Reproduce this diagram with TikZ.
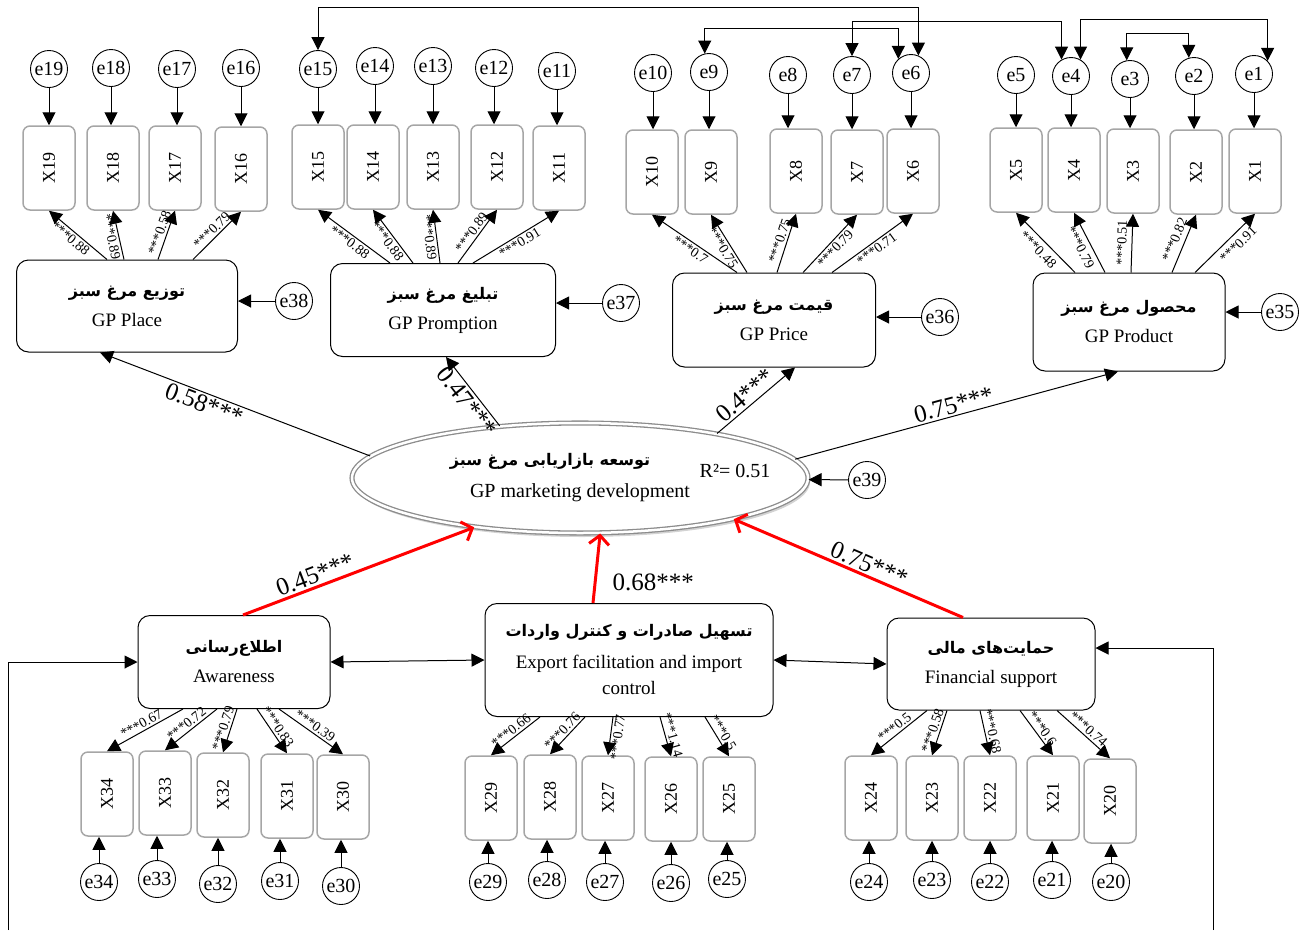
\documentclass[tikz,border=0pt]{standalone}
\usepackage{fontspec}
\setmainfont{Liberation Serif}
\newfontfamily\arabicfont[Script=Arabic]{DejaVu Sans}
\TeXXeTstate=1
\usetikzlibrary{arrows.meta, shapes.geometric, shadows}

\newcommand{\fa}[1]{{\arabicfont\bfseries\fontsize{16}{20}\selectfont\beginR #1\endR}}

\tikzstyle{construct} = [rectangle, rounded corners=12pt, draw=black, line width=1pt,
    fill=white, align=center, font=\fontsize{19}{30}\selectfont]
\tikzstyle{indicator} = [rectangle, rounded corners=7pt, draw=black!35, line width=1.5pt,
    minimum width=52pt, minimum height=84pt, font=\fontsize{18}{20}\selectfont]
\tikzstyle{err} = [circle, draw=black, line width=0.9pt, minimum size=37pt, inner sep=1pt,
    font=\fontsize{20}{22}\selectfont]
\tikzstyle{arrow} = [line width=1pt, -{Triangle[length=13pt,width=13pt]}]
\tikzstyle{cov} = [line width=1pt, {Triangle[length=13pt,width=13pt]}-{Triangle[length=13pt,width=13pt]}]
\tikzstyle{effect} = [line width=3pt, red, -{Straight Barb[length=9pt,width=20pt]}]
\tikzstyle{loading} = [sloped, inner sep=2pt, font=\fontsize{14}{14}\selectfont]
\tikzstyle{pathlab} = [inner sep=2pt, text=black, font=\fontsize{25}{25}\selectfont]

\begin{document}
\begin{tikzpicture}[x=1pt, y=-1pt]
\useasboundingbox (0,0) rectangle (1304,930);

% constructs
\node (place) [construct, minimum width=221pt, minimum height=92pt] at (127,306) {\fa{توزیع مرغ سبز}\\GP Place};
\node (promption) [construct, minimum width=225pt, minimum height=93pt] at (443,310) {\fa{تبلیغ مرغ سبز}\\GP Promption};
\node (price) [construct, minimum width=203pt, minimum height=94pt] at (774,320) {\fa{قیمت مرغ سبز}\\GP Price};
\node (product) [construct, minimum width=192pt, minimum height=98pt] at (1129,322) {\fa{محصول مرغ سبز}\\GP Product};
\node (dev) [ellipse, minimum width=456pt, minimum height=110pt, draw=black!45, line width=1.3pt,
    double=white, double distance=2.5pt, fill=white,
    drop shadow={opacity=0.35, shadow xshift=2pt, shadow yshift=-4pt},
    align=center, font=\fontsize{20}{32}\selectfont] at (580,478)
    {\fa{توسعه بازاریابی مرغ سبز}\hspace*{60pt}\\GP marketing development};
\node (r2) [font=\fontsize{20}{22}\selectfont] at (735,471) {R²= 0.51};
\node (awareness) [construct, minimum width=192pt, minimum height=93pt] at (234,662) {\fa{اطلاع^^^^200cرسانی}\\Awareness};
\node (export) [construct, minimum width=288pt, minimum height=113pt, font=\fontsize{19}{26}\selectfont] at (629,660)
    {\fa{تسهیل صادرات و کنترل واردات}\\[6pt]Export facilitation and import\\control};
\node (financial) [construct, minimum width=208pt, minimum height=92pt] at (991,664) {\fa{حمایت^^^^200cهای مالی}\\Financial support};

% top indicators and their errors
\foreach \i/\x/\y/\ex/\ey in {19/49/168/49/69, 18/113/168/111/68, 17/175/168/177/69, 16/241/169/241/68,
    15/318/167/318/69, 14/373/167/375/66, 13/433/167/433/66, 12/497/167/494/68, 11/559/168/557/71,
    10/652/172/653/73, 9/711/172/709/72, 8/796/171/788/75, 7/857/172/852/75, 6/913/171/911/73,
    5/1016/170/1016/75, 4/1074/170/1071/76, 3/1133/171/1130/79, 2/1196/172/1194/76, 1/1255/171/1254/74}{
  \node (X\i) [indicator] at (\x,\y) {\rotatebox{90}{X\i}};
  \node (e\i) [err] at (\ex,\ey) {e\i};
  \draw [arrow] (e\i.south) -- (e\i.south |- X\i.north);
}

% bottom indicators and their errors
\foreach \i/\x/\y/\ex/\ey in {34/107/794/99/882, 33/165/793/157/879, 32/223/795/218/884, 31/287/796/280/881,
    30/343/797/341/886, 29/491/798/488/882, 28/550/797/547/880, 27/608/798/605/882, 26/671/799/671/883,
    25/729/799/727/879, 24/871/798/869/882, 23/932/798/932/880, 22/990/798/990/882, 21/1053/798/1052/880,
    20/1110/801/1111/882}{
  \node (X\i) [indicator] at (\x,\y) {\rotatebox{90}{X\i}};
  \node (e\i) [err] at (\ex,\ey) {e\i};
  \draw [arrow] (e\i.north) -- (e\i.north |- X\i.south);
}

% loadings
\foreach \i/\s/\l/\anc/\p in {19/107/0.88/north/0.55, 18/124/0.89/north/0.5, 17/158/0.58/south/0.5, 16/193/0.79/south/0.5}
  \draw [arrow] (\s,0 |- place.north) -- node[loading, anchor=\anc, pos=\p] {***\l} (X\i.south);
\foreach \i/\s/\l/\anc in {15/390/0.88/north, 14/413/0.88/north, 13/440/0.89/north, 12/458/0.89/south, 11/473/0.91/north}
  \draw [arrow] (\s,0 |- promption.north) -- node[loading, anchor=\anc] {***\l} (X\i.south);
\foreach \i/\s/\l/\anc in {10/737/0.7/north, 9/747/0.75/north, 8/777/0.75/south, 7/803/0.79/north, 6/832/0.71/north}
  \draw [arrow] (\s,0 |- price.north) -- node[loading, anchor=\anc] {***\l} (X\i.south);
\foreach \i/\s/\l/\anc/\p in {5/1075/0.48/north/0.5, 4/1105/0.79/north/0.5, 3/1131/0.51/south/0.5, 2/1172/0.82/south/0.5, 1/1195/0.91/north/0.6}
  \draw [arrow] (\s,0 |- product.north) -- node[loading, anchor=\anc, pos=\p, inner sep=5pt] {***\l} (X\i.south);
\foreach \i/\s/\l/\anc in {34/183/0.67/south, 33/217/0.72/south, 32/237/0.79/south, 31/257/0.83/south, 30/279/0.39/south}
  \draw [arrow] (\s,0 |- awareness.south) -- node[loading, anchor=\anc] {***\l} (X\i.north);
\foreach \i/\s/\l/\anc in {29/540/0.66/south, 28/585/0.76/south, 27/613/0.77/north, 26/660/1.14/south, 25/705/0.5/south}
  \draw [arrow] (\s,0 |- export.south) -- node[loading, anchor=\anc] {***\l} (X\i.north);
\foreach \i/\s/\l/\anc in {24/927/0.5/south, 23/947/0.58/south, 22/980/0.68/south, 21/1020/0.6/south, 20/1057/0.74/south}
  \draw [arrow] (\s,0 |- financial.south) -- node[loading, anchor=\anc] {***\l} (X\i.north);

% residuals of the constructs
\node (e38) [err] at (294,301) {e38};
\node (e37) [err] at (621,303) {e37};
\node (e36) [err] at (940,317) {e36};
\node (e35) [err] at (1280,312) {e35};
\node (e39) [err] at (867,480) {e39};
\draw [arrow] (e38) -- (place.east |- e38);
\draw [arrow] (e37) -- (promption.east |- e37);
\draw [arrow] (e36) -- (price.east |- e36);
\draw [arrow] (e35) -- (product.east |- e35);
\draw [arrow] (e39) -- (dev);

% paths from the ellipse
\draw [arrow] (dev.174) -- node[pathlab, sloped, anchor=north, pos=0.6] {0.58***} (place.south -| 100,0);
\draw [arrow] (dev.147) -- node[pathlab, sloped, anchor=north, pos=0.45] {0.47***} (promption.south -| 446,0);
\draw [arrow] (dev.18) -- node[pathlab, sloped, anchor=south, pos=0.45] {0.4***} (price.south -| 795,0);
\draw [arrow] (dev.5) -- node[pathlab, sloped, anchor=south, pos=0.5] {0.75***} (product.south -| 1118,0);

% paths into the ellipse
\draw [effect] (awareness.north -| 243,0) -- node[pathlab, sloped, anchor=south, pos=0.33] {0.45***} (dev.205);
\draw [effect] (export.north -| 593,0) -- node[pathlab, right=14pt, pos=0.3] {0.68***} (dev.290);
\draw [effect] (financial.north -| 963,0) -- node[pathlab, sloped, anchor=south, pos=0.43] {0.75***} (dev.345);

% correlations
\draw [cov] (awareness.east) -- (export.west);
\draw [cov] (export.east) -- (financial.west);
\draw [cov] (e15.north) -- (e15.north |- 0,7) -| (e6.67);
\draw [cov] (e9.103) -- (e9.103 |- 0,28) -| (e6.132);
\draw [cov] (e7.north) -- (e7.north |- 0,21) -| (e4.120);
\draw [cov] (e4.60) -- (e4.60 |- 0,19) -| (e1.44);
\draw [cov] (e3.100) -- (e3.100 |- 0,33) -| (e2.106);

\coordinate (lbot) at (8,930);
\coordinate (rbot) at (1213,930);
\draw [arrow] (lbot) |- (awareness.west);
\draw [arrow] (rbot) |- ([yshift=16pt]financial.east);
\end{tikzpicture}
\end{document}
